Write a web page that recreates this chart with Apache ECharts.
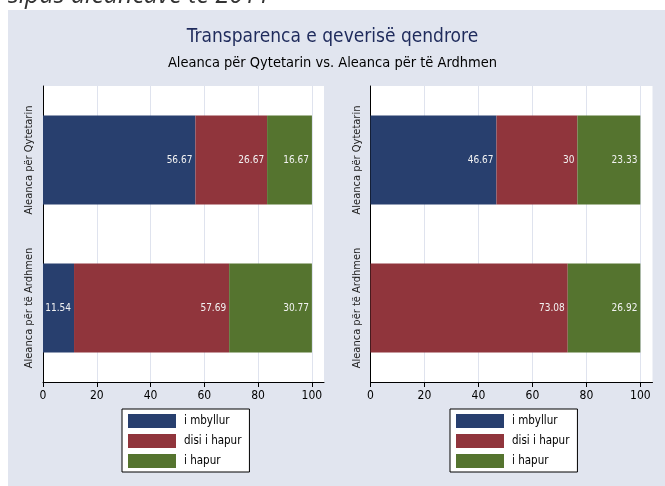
<!DOCTYPE html>
<html>
<head>
<meta charset="utf-8">
<style>
  html, body { margin: 0; padding: 0; background: #fff; }
  #chart { width: 665px; height: 486px; }
</style>
</head>
<body>
<div id="chart"></div>
<script src="https://cdn.jsdelivr.net/npm/echarts@6/dist/echarts.min.js"></script>
<script>
(function() {
  var categories = ['Aleanca për Qytetarin', 'Aleanca për të Ardhmen'];
  var seriesNames = ['i mbyllur', 'disi i hapur', 'i hapur'];
  var xTicks = [0, 20, 40, 60, 80, 100];

  // left panel
  var leftClosed = [56.67, 11.54];
  var leftSemi = [26.67, 57.69];
  var leftOpen = [16.67, 30.77];
  // right panel
  var rightClosed = [46.67, 0];
  var rightSemi = [30, 73.08];
  var rightOpen = [23.33, 26.92];

  var colors = ['#283f6e', '#90353c', '#55742f'];
  var narrow = "'Liberation Sans Narrow', 'Arial Narrow', 'DejaVu Sans Condensed', sans-serif";
  var gridLine = '#dfe3ee';

  function xAxisFor(i) {
    return {
      type: 'value', gridIndex: i, min: 0, max: 104.5,
      axisLine: { show: true, lineStyle: { color: '#000', width: 1 } },
      axisTick: { show: true, length: 5, customValues: xTicks, lineStyle: { color: '#000' } },
      axisLabel: { customValues: xTicks, color: '#000', fontSize: 12, fontFamily: narrow, margin: 8 },
      splitLine: { show: true, lineStyle: { color: gridLine, width: 1 } }
    };
  }

  function yAxisFor(i) {
    return {
      type: 'category', gridIndex: i, data: categories, inverse: true,
      axisLine: { show: true, lineStyle: { color: '#000', width: 1 } },
      axisTick: { show: false },
      axisLabel: { interval: 0, rotate: 90, color: '#222', fontSize: 11, fontFamily: narrow, margin: 8 }
    };
  }

  function bar(name, data, i, color) {
    return {
      name: name, type: 'bar', stack: 'p' + i,
      xAxisIndex: i, yAxisIndex: i,
      data: data, barWidth: '60%',
      itemStyle: { color: color },
      label: {
        show: true, position: 'insideRight', distance: 3,
        color: '#f2f2f2', fontSize: 10, fontFamily: narrow,
        formatter: function(p) { return p.value ? String(p.value) : ''; }
      }
    };
  }

  function legendAt(left) {
    return {
      left: left, top: 409, orient: 'vertical',
      data: seriesNames,
      itemWidth: 48, itemHeight: 14, itemGap: 6,
      padding: [5, 8, 4, 6],
      backgroundColor: '#fff', borderColor: '#000', borderWidth: 1, borderRadius: 0,
      icon: 'rect', selectedMode: false,
      textStyle: { color: '#000', fontSize: 11.5, fontFamily: narrow, padding: [0, 0, 0, 3] }
    };
  }

  var chart = echarts.init(document.getElementById('chart'), null, { renderer: 'canvas' });
  chart.setOption({
    animation: false,
    backgroundColor: '#fff',
    graphic: [
      { type: 'rect', z: -10, shape: { x: 8, y: 10, width: 657, height: 476 }, style: { fill: '#e1e5ef' } },
      { type: 'text', style: { x: 8, y: 8, text: 'sipas aleancave të 2011', fill: '#333',
        font: 'italic 25px "Open Sans", "Noto Sans", sans-serif', verticalAlign: 'bottom' } }
    ],
    title: [
      { text: 'Transparenca e qeverisë qendrore', left: 'center', top: 23,
        textStyle: { color: '#1f2b5c', fontSize: 19, fontWeight: 'normal', fontFamily: narrow } },
      { text: 'Aleanca për Qytetarin vs. Aleanca për të Ardhmen', left: 'center', top: 51,
        textStyle: { color: '#000', fontSize: 14.5, fontWeight: 'normal', fontFamily: narrow } }
    ],
    legend: [legendAt(122), legendAt(450)],
    grid: [
      { left: 43, top: 86, width: 281, height: 296, show: true, backgroundColor: '#fff', borderWidth: 0 },
      { left: 370.5, top: 86, width: 282, height: 296, show: true, backgroundColor: '#fff', borderWidth: 0 }
    ],
    xAxis: [xAxisFor(0), xAxisFor(1)],
    yAxis: [yAxisFor(0), yAxisFor(1)],
    series: [
      bar(seriesNames[0], leftClosed, 0, colors[0]),
      bar(seriesNames[1], leftSemi, 0, colors[1]),
      bar(seriesNames[2], leftOpen, 0, colors[2]),
      bar(seriesNames[0], rightClosed, 1, colors[0]),
      bar(seriesNames[1], rightSemi, 1, colors[1]),
      bar(seriesNames[2], rightOpen, 1, colors[2])
    ]
  });
  window.addEventListener('resize', function() { chart.resize(); });
})();
</script>
</body>
</html>
